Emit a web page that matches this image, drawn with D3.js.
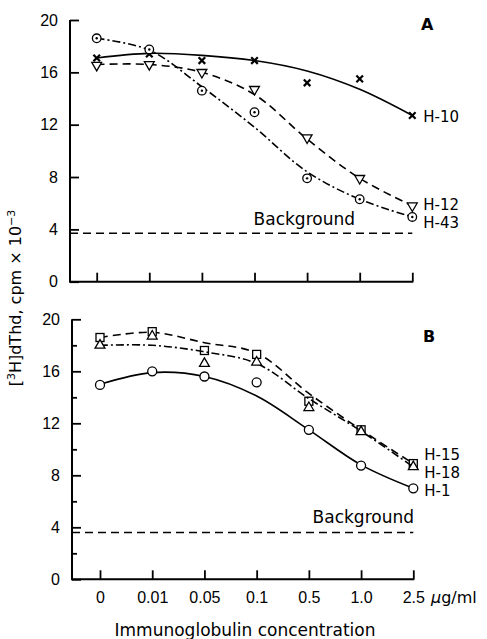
<!DOCTYPE html>
<html lang="en">
<head>
<meta charset="UTF-8">
<script src="https://cdn.jsdelivr.net/npm/d3@7"></script>
<style>
    body { margin: 0; background: white; }
    svg { font-family: "DejaVu Sans", sans-serif; }
    .axis path.domain { display: none; }
    .axis line { stroke: #000; stroke-width: 1.8; }
    .axis text { font-size: 16px; fill: #000; }
    .frame { stroke: #000; stroke-width: 2; fill: none; }
    .fit { fill: none; stroke: #000; stroke-width: 1.6; }
    .mark { fill: white; stroke: #000; stroke-width: 1.3; }
    .lab { font-size: 17px; }
    .slab { font-size: 15px; }
</style>
</head>
<body>
<svg id="chart" width="487" height="639"></svg>
<script>
    // x categories (immunoglobulin, ug/ml)
    var concLabels = ["0", "0.01", "0.05", "0.1", "0.5", "1.0", "2.5"];
    var yTicks = [0, 4, 8, 12, 16, 20];
    var yMinorTicks = [2, 6, 10, 14, 18];

    // panel A: measured points and the fitted curves drawn through them
    var h10 = [17.1, 17.4, 16.9, 16.9, 15.2, 15.5, 12.7];
    var h10Fit = [17.1, 17.45, 17.3, 16.9, 16.1, 14.7, 12.7];
    var h12 = [16.55, 16.6, 16.0, 14.7, 11.0, 7.9, 5.8];
    var h12Fit = [16.6, 16.6, 16.0, 14.3, 10.9, 7.9, 5.8];
    var h43 = [18.6, 17.75, 14.6, 12.95, 7.9, 6.3, 4.95];
    var h43Fit = [18.6, 17.7, 14.9, 11.8, 8.4, 6.3, 4.95];
    var backgroundA = 3.7;

    // panel B
    var h15 = [18.6, 19.05, 17.6, 17.3, 13.7, 11.5, 8.9];
    var h15Fit = [18.6, 19.0, 18.2, 17.4, 14.3, 11.5, 8.9];
    var h18 = [18.0, 18.7, 16.6, 16.7, 13.2, 11.35, 8.65];
    var h18Fit = [18.0, 18.0, 17.5, 16.6, 13.9, 11.4, 8.65];
    var h1 = [14.95, 16.0, 15.6, 15.15, 11.5, 8.75, 7.0];
    var h1Fit = [15.0, 15.9, 15.6, 14.1, 11.5, 8.8, 7.0];
    var backgroundB = 3.6;

    var dashed = "8,5";
    var dashDot = "8,3,2,3";

    var svg = d3.select("#chart");

    // panel layout (pixels)
    var panels = [
        { name: "A", axisX: 70, top: 20, bottom: 281.7, x0: 96.7, x1: 412.3, minor: false,
          labels: false, bg: backgroundA, bgText: { x: 355, y: 225 }, letter: { x: 421, y: 29.5 },
          series: [
              { name: "H-10", pts: h10, fit: h10Fit, dash: null, marker: "times", ly: 122 },
              { name: "H-12", pts: h12, fit: h12Fit, dash: dashed, marker: "down", ly: 210 },
              { name: "H-43", pts: h43, fit: h43Fit, dash: dashDot, marker: "dotcircle", ly: 228 }
          ] },
        { name: "B", axisX: 72, top: 319.3, bottom: 579.3, x0: 100, x1: 413.3, minor: true,
          labels: true, bg: backgroundB, bgText: { x: 414, y: 523 }, letter: { x: 423, y: 342 },
          series: [
              { name: "H-15", pts: h15, fit: h15Fit, dash: dashed, marker: "square", ly: 460 },
              { name: "H-18", pts: h18, fit: h18Fit, dash: dashDot, marker: "up", ly: 478 },
              { name: "H-1", pts: h1, fit: h1Fit, dash: null, marker: "circle", ly: 496 }
          ] }
    ];

    panels.forEach(function(p) {
        var x = d3.scalePoint().domain(concLabels).range([p.x0, p.x1]);
        var y = d3.scaleLinear().domain([0, 20]).range([p.bottom, p.top]);
        var g = svg.append("g");

        // axis lines
        g.append("path").attr("class", "frame")
            .attr("d", "M" + p.axisX + "," + p.top + "V" + p.bottom + "H" + (p.x1 + 1));

        // y axis, ticks inward
        g.append("g").attr("class", "axis")
            .attr("transform", "translate(" + p.axisX + ",0)")
            .call(d3.axisLeft(y).tickValues(yTicks).tickSize(-9).tickSizeOuter(0).tickPadding(12));
        if (p.minor) {
            g.append("g").attr("class", "axis")
                .attr("transform", "translate(" + p.axisX + ",0)")
                .call(d3.axisLeft(y).tickValues(yMinorTicks).tickSize(-5).tickSizeOuter(0).tickFormat(""));
        }

        // x axis, ticks inward
        g.append("g").attr("class", "axis")
            .attr("transform", "translate(0," + p.bottom + ")")
            .call(d3.axisBottom(x).tickSize(-9).tickSizeOuter(0).tickPadding(12)
                .tickFormat(p.labels ? null : ""));

        // background line
        g.append("line")
            .attr("x1", p.axisX).attr("x2", p.x1)
            .attr("y1", y(p.bg)).attr("y2", y(p.bg))
            .attr("stroke", "#000").attr("stroke-width", 1.5)
            .attr("stroke-dasharray", dashed);
        g.append("text").attr("class", "lab")
            .attr("x", p.bgText.x).attr("y", p.bgText.y)
            .attr("text-anchor", "end")
            .text("Background");

        // panel letter
        g.append("text")
            .attr("x", p.letter.x).attr("y", p.letter.y)
            .attr("font-size", 16).attr("font-weight", "bold")
            .text(p.name);

        var line = d3.line()
            .x(function(d, i) { return x(concLabels[i]); })
            .y(function(d) { return y(d); })
            .curve(d3.curveCatmullRom.alpha(0.5));

        p.series.forEach(function(s) {
            g.append("path").attr("class", "fit")
                .attr("d", line(s.fit))
                .attr("stroke-dasharray", s.dash);

            var m = g.append("g").selectAll("g")
                .data(s.pts).enter().append("g")
                .attr("transform", function(d, i) {
                    return "translate(" + x(concLabels[i]) + "," + y(d) + ")";
                });
            if (s.marker == "times") {
                m.append("path")
                    .attr("d", d3.symbol(d3.symbolTimes, 30)())
                    .attr("stroke", "#000").attr("stroke-width", 2.2).attr("fill", "none");
            } else if (s.marker == "down") {
                m.append("path").attr("class", "mark")
                    .attr("d", d3.symbol(d3.symbolTriangle, 42)())
                    .attr("transform", "rotate(180)");
            } else if (s.marker == "up") {
                m.append("path").attr("class", "mark")
                    .attr("d", d3.symbol(d3.symbolTriangle, 42)());
            } else if (s.marker == "square") {
                m.append("rect").attr("class", "mark")
                    .attr("x", -4).attr("y", -4).attr("width", 8).attr("height", 8);
            } else if (s.marker == "circle") {
                m.append("circle").attr("class", "mark").attr("r", 4.5);
            } else if (s.marker == "dotcircle") {
                m.append("circle").attr("class", "mark").attr("r", 4.3);
                m.append("circle").attr("r", 1.2).attr("fill", "#000");
            }

            g.append("text").attr("class", "slab")
                .attr("x", p.x1 + 11).attr("y", s.ly)
                .text(s.name);
        });
    });

    // unit after the last tick label
    var unit = svg.append("text").attr("x", 431).attr("y", 603).attr("font-size", 16);
    unit.append("tspan").attr("font-style", "italic").text("\u03bc");
    unit.append("tspan").text("g/ml");

    // x title
    svg.append("text")
        .attr("x", 245).attr("y", 636)
        .attr("text-anchor", "middle").attr("font-size", 17)
        .text("Immunoglobulin concentration");

    // y title
    var yt = svg.append("text")
        .attr("transform", "translate(21,298) rotate(-90)")
        .attr("text-anchor", "middle").attr("font-size", 16);
    yt.append("tspan").text("[");
    yt.append("tspan").attr("font-size", 11).attr("dy", -6).text("3");
    yt.append("tspan").attr("dy", 6).text("H]dThd, cpm \u00d7 10");
    yt.append("tspan").attr("font-size", 11).attr("dy", -6).text("\u22123");
</script>
</body>
</html>
